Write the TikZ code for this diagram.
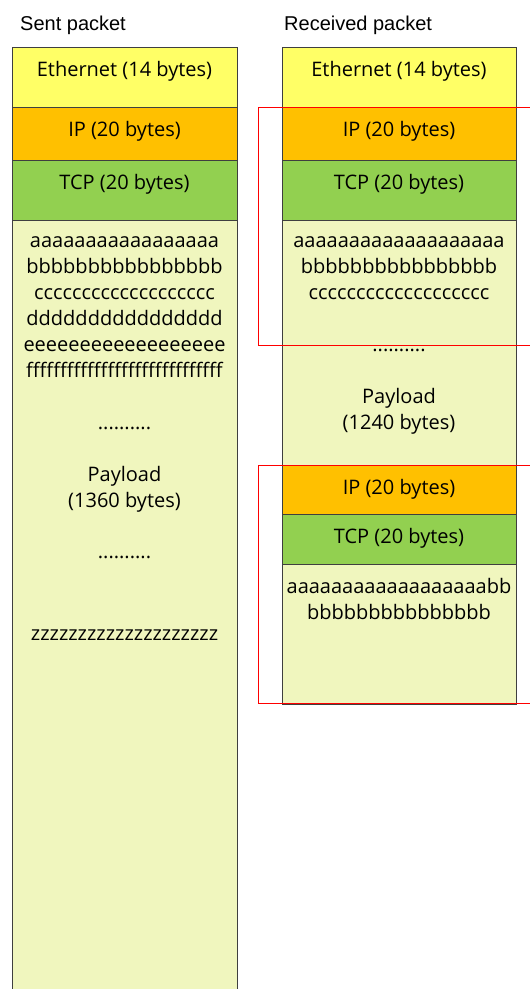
\documentclass[tikz,border=0pt]{standalone}
\usepackage{fontspec}
\setmainfont{Open Sans}
\newfontfamily\titlefont{Liberation Sans}
\usetikzlibrary{positioning}

\definecolor{ethcol}{HTML}{FFFF66}
\definecolor{ipcol}{HTML}{FFC000}
\definecolor{tcpcol}{HTML}{92D050}
\definecolor{paycol}{HTML}{F0F6BE}
\definecolor{edgecol}{HTML}{3F3F3F}

\begin{document}
\begin{tikzpicture}[
    x=1pt, y=1pt,
    block/.style={draw=edgecol, line width=0.8pt, inner sep=0pt, outer sep=0pt, anchor=north},
    sent/.style={block, minimum width=225pt},
    recv/.style={block, minimum width=234pt},
    eth/.style={fill=ethcol},
    ip/.style={fill=ipcol},
    tcp/.style={fill=tcpcol},
    pay/.style={fill=paycol},
    lbl/.style={anchor=center, yshift=-24pt, inner sep=0pt, font=\fontsize{20}{26}\selectfont},
    txt/.style={align=center, inner sep=0pt, font=\fontsize{20}{26}\selectfont},
    title/.style={anchor=base west, inner sep=0pt, font=\titlefont\fontsize{20}{24}\selectfont},
    seg/.style={draw=red, line width=1pt}
]
\useasboundingbox (0,0) rectangle (530,-989);

% sent packet
\node[title] (stitle) at (20,-30) {Sent packet};
\node[sent, eth, minimum height=60pt, label={[lbl]north:Ethernet (14 bytes)}] (seth) at (124.5,-47) {};
\node[sent, ip, minimum height=53pt, below=0pt of seth, label={[lbl]north:IP (20 bytes)}] (sip) {};
\node[sent, tcp, minimum height=60pt, below=0pt of sip, label={[lbl]north:TCP (20 bytes)}] (stcp) {};
\node[sent, pay, minimum height=772pt, below=0pt of stcp] (spay) {};

\node[txt] (sdata) at (124.5,-307.5) {aaaaaaaaaaaaaaaaa\\bbbbbbbbbbbbbbbb\\ccccccccccccccccccc\\dddddddddddddddd\\eeeeeeeeeeeeeeeeee\\fffffffffffffffffffffffffffff};
\node[txt] (sdots1) at (124.5,-428) {..........};
\node[txt] (slen) at (124.5,-489.5) {Payload\\(1360 bytes)};
\node[txt] (sdots2) at (124.5,-557) {..........};
\node[txt] (slast) at (124.5,-635) {zzzzzzzzzzzzzzzzzzzz};

% received packet
\node[title] (rtitle) at (284,-30) {Received packet};
\node[recv, eth, minimum height=60pt, label={[lbl]north:Ethernet (14 bytes)}] (reth) at (399,-47) {};
\node[recv, ip, minimum height=53pt, below=0pt of reth, label={[lbl]north:IP (20 bytes)}] (rip) {};
\node[recv, tcp, minimum height=60pt, below=0pt of rip, label={[lbl]north:TCP (20 bytes)}] (rtcp) {};
\node[recv, pay, minimum height=245pt, below=0pt of rtcp] (rpay) {};
\node[recv, ip, minimum height=49pt, below=0pt of rpay, label={[lbl]north:IP (20 bytes)}] (rip2) {};
\node[recv, tcp, minimum height=50pt, below=0pt of rip2, label={[lbl]north:TCP (20 bytes)}] (rtcp2) {};
\node[recv, pay, minimum height=140pt, below=0pt of rtcp2] (rpay2) {};

\node[txt] (rdata) at (399,-268) {aaaaaaaaaaaaaaaaaaa\\bbbbbbbbbbbbbbbb\\ccccccccccccccccccc};
\node[txt] (rdots) at (399,-350) {..........};
\node[txt] (rlen) at (399,-411.5) {Payload\\(1240 bytes)};
\node[txt] (rdata2) at (399,-599) {aaaaaaaaaaaaaaaaaabb\\bbbbbbbbbbbbbbb};

% segments
\draw[seg] (rip.north west) ++(-24,0) rectangle ++(290,-238);
\draw[seg] (rip2.north west) ++(-24,0) rectangle ++(290,-238);
\end{tikzpicture}
\end{document}
